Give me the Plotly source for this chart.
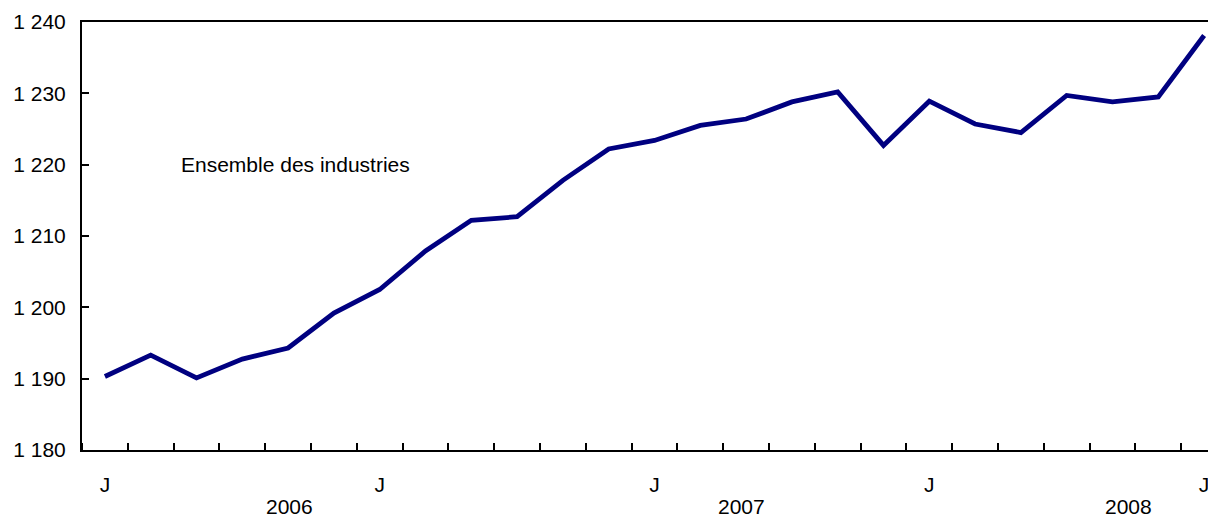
import plotly.graph_objects as go

# Data (monthly, 25 points)
month_index = list(range(25))
values = [1190.3, 1193.3, 1190.1, 1192.75, 1194.3, 1199.2, 1202.5, 1207.9,
          1212.2, 1212.7, 1217.8, 1222.2, 1223.4, 1225.5, 1226.4, 1228.8,
          1230.2, 1222.7, 1228.9, 1225.7, 1224.5, 1229.7, 1228.8, 1229.5,
          1238.1]
month_tick_pos = [0, 6, 12, 18, 24]
month_tick_labels = ["J", "J", "J", "J", "J"]
year_labels = ["2006", "2007", "2008"]
year_pos = [4.03, 13.89, 22.34]
y_ticks = [1180, 1190, 1200, 1210, 1220, 1230, 1240]
y_tick_labels = ["1 180", "1 190", "1 200", "1 210", "1 220", "1 230", "1 240"]
series_label = "Ensemble des industries"

FONT = "Liberation Sans, Arial, Helvetica, sans-serif"
FS = 21

fig = go.Figure()
fig.add_trace(go.Scatter(
    x=month_index, y=values, mode="lines",
    line=dict(color="#000080", width=4.8),
    hoverinfo="skip", showlegend=False,
))

# page body has an 8px margin, so the figure is offset by (8, 8)
fig.update_layout(
    width=1208, height=511,
    margin=dict(l=74, r=0, t=14, b=69, pad=0),
    plot_bgcolor="white", paper_bgcolor="white",
    font=dict(family=FONT, size=FS, color="black"),
    showlegend=False,
    xaxis=dict(
        range=[-0.5, 24.26],
        showgrid=False, zeroline=False,
        showline=True, linecolor="black", linewidth=2, mirror=True,
        tickmode="array", tickvals=month_tick_pos, ticktext=month_tick_labels,
        ticks="", ticklen=0, ticklabelstandoff=15,
        minor=dict(tickmode="array",
                   tickvals=[i + 0.5 for i in range(-1, 25)],
                   ticks="inside", ticklen=7, tickwidth=2, tickcolor="black"),
        tickfont=dict(size=FS),
    ),
    yaxis=dict(
        range=[1180, 1240],
        showgrid=False, zeroline=False,
        showline=True, linecolor="black", linewidth=2, mirror=False,
        tickmode="array", tickvals=y_ticks, ticktext=y_tick_labels,
        ticks="inside", ticklen=7, tickwidth=2, tickcolor="black",
        ticklabelstandoff=10,
        tickfont=dict(size=FS),
    ),
)

for label, pos in zip(year_labels, year_pos):
    fig.add_annotation(x=pos, xref="x", y=0, yref="paper", yshift=-56,
                       text=label, showarrow=False, xanchor="center",
                       yanchor="middle", borderpad=0, font=dict(size=FS))

fig.add_annotation(x=1.61, y=1220, xref="x", yref="y", text=series_label,
                   showarrow=False, xanchor="left", yanchor="middle",
                   font=dict(size=FS))

fig.write_html("out.html")
